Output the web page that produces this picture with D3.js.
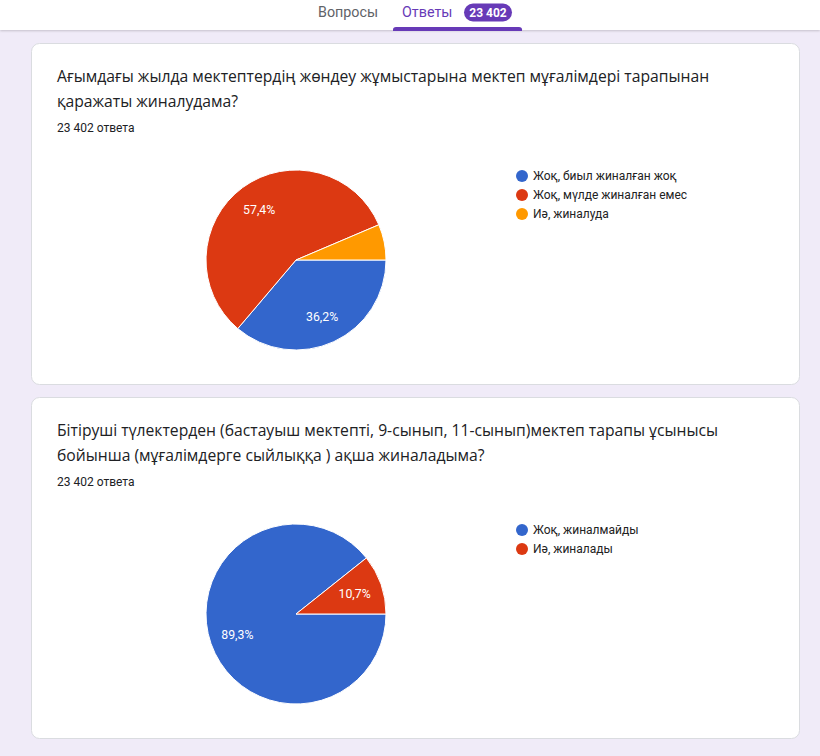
<!DOCTYPE html>
<html>
<head>
<meta charset="utf-8">
<script src="https://cdn.jsdelivr.net/npm/d3@7"></script>
<style>
  html, body { margin: 0; padding: 0; background: #f0ebf8; }
  svg { display: block; }
</style>
</head>
<body>
<svg id="chart" width="820" height="756"></svg>
<script>
// ---- data ----
const tabs = ["Вопросы", "Ответы"];
const responseCount = "23 402";
const responsesLabel = "23 402 ответа";

const q1Title = ["Ағымдағы жылда мектептердің жөндеу жұмыстарына мектеп мұғалімдері тарапынан",
                 "қаражаты жиналудама?"];
const q1Categories = ["Жоқ, биыл жиналған жоқ", "Жоқ, мүлде жиналған емес", "Иә, жиналуда"];
const q1Values = [36.2, 57.4, 6.4];
const q1Labels = ["36,2%", "57,4%", ""];

const q2Title = ["Бітіруші түлектерден (бастауыш мектепті, 9-сынып, 11-сынып)мектеп тарапы ұсынысы",
                 "бойынша (мұғалімдерге сыйлыққа ) ақша жиналадыма?"];
const q2Categories = ["Жоқ, жиналмайды", "Иә, жиналады"];
const q2Values = [89.3, 10.7];
const q2Labels = ["89,3%", "10,7%"];

const palette = ["#3366cc", "#dc3912", "#ff9900"];

// ---- drawing ----
const svg = d3.select("#chart");
const font = "Roboto, 'Noto Sans', Arial, sans-serif";

// header
const defs = svg.append("defs");
const f = defs.append("filter").attr("id", "sh").attr("x", "-10%").attr("y", "-50%").attr("width", "120%").attr("height", "200%");
f.append("feDropShadow").attr("dx", 0).attr("dy", 1).attr("stdDeviation", 1.2).attr("flood-color", "#000").attr("flood-opacity", 0.18);

svg.append("rect").attr("x", 0).attr("y", 0).attr("width", 820).attr("height", 30)
  .attr("fill", "#fff").attr("filter", "url(#sh)");

svg.append("text").attr("x", 318).attr("y", 17).text(tabs[0])
  .attr("font-family", font).attr("font-size", 14.3).attr("fill", "#5f6368");
svg.append("text").attr("x", 402).attr("y", 17).text(tabs[1])
  .attr("font-family", font).attr("font-size", 14.3).attr("fill", "#673ab7");
svg.append("rect").attr("x", 464).attr("y", 3.5).attr("width", 48).attr("height", 18).attr("rx", 9)
  .attr("fill", "#673ab7");
svg.append("text").attr("x", 488).attr("y", 17).attr("text-anchor", "middle").text(responseCount)
  .attr("font-family", font).attr("font-size", 12).attr("font-weight", 700).attr("fill", "#fff");
svg.append("path").attr("d", "M393,31 L393,29.5 Q393,27 396,27 L519,27 Q522,27 522,29.5 L522,31 Z")
  .attr("fill", "#673ab7");

function card(y0, title, cats, vals, labels) {
  const g = svg.append("g");
  g.append("rect").attr("x", 31.5).attr("y", y0 + 0.5).attr("width", 768).attr("height", 341)
    .attr("rx", 8).attr("fill", "#fff").attr("stroke", "#dadce0");

  title.forEach((t, i) => {
    g.append("text").attr("x", 57).attr("y", y0 + 38.5 + i * 25.5).text(t)
      .attr("font-family", "'Open Sans', Roboto, sans-serif").attr("font-size", 15.7)
      .attr("fill", "#202124");
  });
  g.append("text").attr("x", 57).attr("y", y0 + 89).text(responsesLabel)
    .attr("font-family", font).attr("font-size", 12).attr("fill", "#202124");

  const cx = 296, cy = y0 + 217, R = 90;
  const pie = d3.pie().sort(null).value(d => d)
    .startAngle(Math.PI / 2).endAngle(Math.PI / 2 + 2 * Math.PI);
  const arcs = pie(vals);
  const arc = d3.arc().innerRadius(0).outerRadius(R);
  const labelArc = d3.arc().innerRadius(R * 0.69).outerRadius(R * 0.69);
  const pg = g.append("g").attr("transform", `translate(${cx},${cy})`);
  pg.selectAll("path").data(arcs).join("path")
    .attr("d", arc).attr("fill", (d, i) => palette[i])
    .attr("stroke", "#fff").attr("stroke-width", 1);
  pg.selectAll("text").data(arcs).join("text")
    .attr("transform", d => `translate(${labelArc.centroid(d)})`)
    .attr("text-anchor", "middle").attr("dy", "0.35em")
    .attr("font-family", font).attr("font-size", 12.3).attr("fill", "#fff")
    .text((d, i) => labels[i]);

  const lg = g.append("g").attr("transform", `translate(522,${y0 + 133})`);
  cats.forEach((c, i) => {
    lg.append("circle").attr("cx", 0).attr("cy", i * 19).attr("r", 6).attr("fill", palette[i]);
    lg.append("text").attr("x", 11).attr("y", i * 19).attr("dy", "0.35em").text(c)
      .attr("font-family", font).attr("font-size", 12).attr("fill", "#222");
  });
}

card(43, q1Title, q1Categories, q1Values, q1Labels);
card(397, q2Title, q2Categories, q2Values, q2Labels);
</script>
</body>
</html>
